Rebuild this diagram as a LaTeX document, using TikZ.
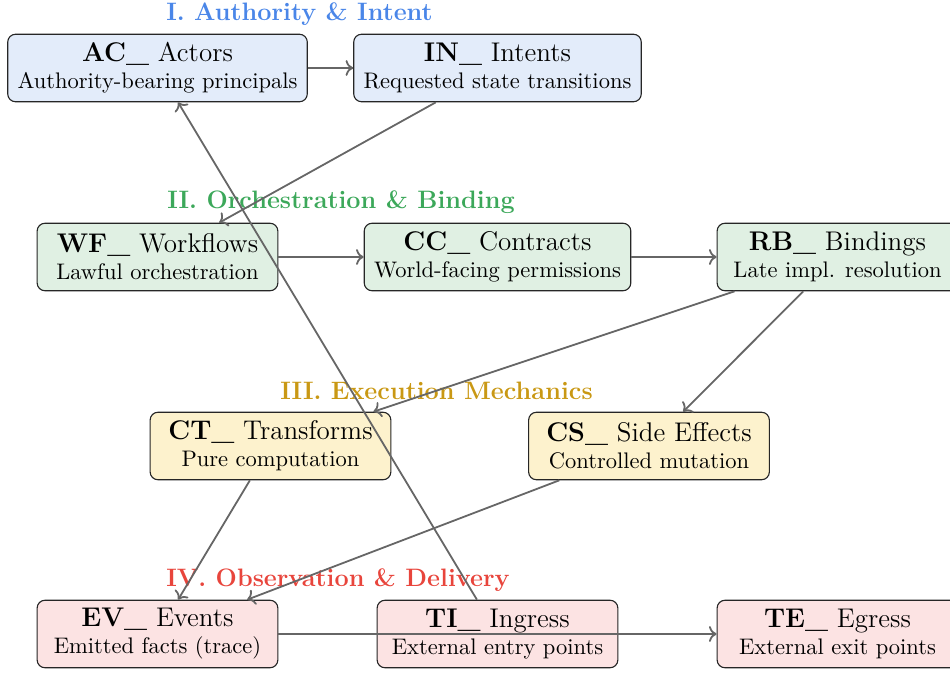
\documentclass[tikz,border=0pt]{standalone}
\usetikzlibrary{arrows.meta}
\definecolor{tblue}{RGB}{74,134,232}
\definecolor{tgreen}{RGB}{60,168,90}
\definecolor{tgold}{RGB}{201,152,20}
\definecolor{tred}{RGB}{232,69,60}
\definecolor{fblue}{RGB}{227,236,250}
\definecolor{fgreen}{RGB}{224,240,227}
\definecolor{fyellow}{RGB}{253,242,205}
\definecolor{fred}{RGB}{252,227,227}
\definecolor{edgegray}{RGB}{102,102,102}
\begin{document}
\begin{tikzpicture}[x=0.4444pt,y=-0.4444pt,
  box/.style={draw=black!85, rounded corners=3.5pt, line width=0.5pt, align=center,
    minimum width=107pt, minimum height=30pt, inner xsep=4.4pt, inner ysep=2pt},
  conn/.style={draw=edgegray, line width=0.8pt, ->},
  sectitle/.style={font=\fontsize{11.2}{13.5}\selectfont\bfseries}]
\useasboundingbox (0,0) rectangle (950,673);
\clip (0,0) rectangle (950,673);
% section titles
\node[sectitle, text=tblue] (t1) at (299.5,14) {I. Authority \& Intent};
\node[sectitle, text=tgreen] (t2) at (341,202) {II. Orchestration \& Binding};
\node[sectitle, text=tgold] (t3) at (436.5,391) {III. Execution Mechanics};
\node[sectitle, text=tred] (t4) at (338,580) {IV. Observation \& Delivery};
% nodes
\node[box, fill=fblue] (AC) at (157.5,68) {{\large\textbf{AC\_} Actors}\\Authority-bearing principals};
\node[box, fill=fblue] (IN) at (497.5,68) {{\large\textbf{IN\_} Intents}\\Requested state transitions};
\node[box, fill=fgreen] (WF) at (157.5,257) {{\large\textbf{WF\_} Workflows}\\Lawful orchestration};
\node[box, fill=fgreen] (CC) at (497.5,257) {{\large\textbf{CC\_} Contracts}\\World-facing permissions};
\node[box, fill=fgreen] (RB) at (837.5,257) {{\large\textbf{RB\_} Bindings}\\Late impl. resolution};
\node[box, fill=fyellow] (CT) at (270.5,446) {{\large\textbf{CT\_} Transforms}\\Pure computation};
\node[box, fill=fyellow] (CS) at (649,446) {{\large\textbf{CS\_} Side Effects}\\Controlled mutation};
\node[box, fill=fred] (EV) at (157.5,634) {{\large\textbf{EV\_} Events}\\Emitted facts (trace)};
\node[box, fill=fred] (TI) at (497.5,634) {{\large\textbf{TI\_} Ingress}\\External entry points};
\node[box, fill=fred] (TE) at (837.5,634) {{\large\textbf{TE\_} Egress}\\External exit points};
% connectors
\draw[conn] (AC) -- (IN);
\draw[conn] (IN) -- (WF);
\draw[conn] (WF) -- (CC);
\draw[conn] (CC) -- (RB);
\draw[conn] (RB) -- (CT);
\draw[conn] (RB) -- (CS);
\draw[conn] (CT) -- (EV);
\draw[conn] (CS) -- (EV);
\draw[conn] (EV) -- (TE);
\draw[conn] (TI) -- (AC);
\end{tikzpicture}
\end{document}
